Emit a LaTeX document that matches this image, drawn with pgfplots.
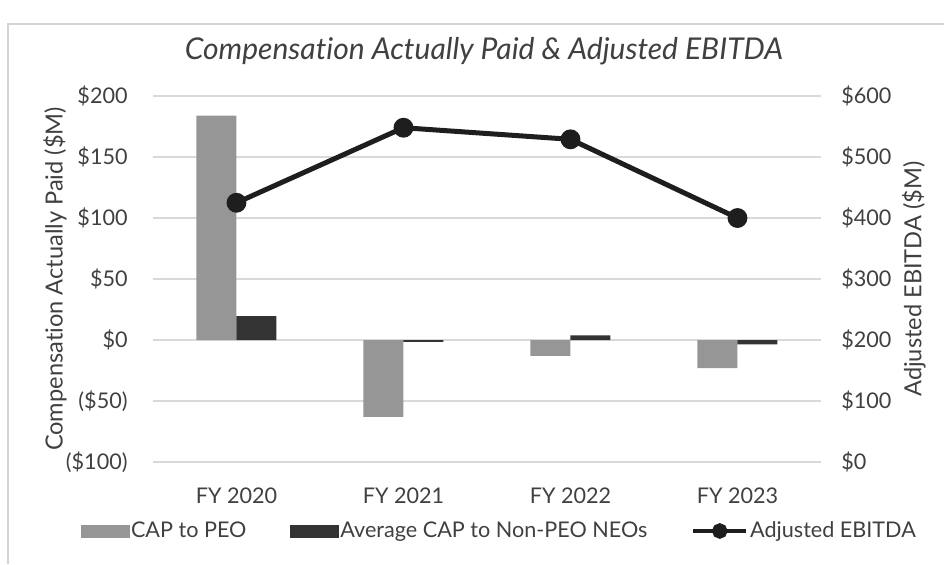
\documentclass[border=0pt]{standalone}
\usepackage{pgfplots}
\pgfplotsset{compat=1.18}
\usepackage{fontspec}
\setmainfont[Ligatures=NoCommon]{Lato}
\definecolor{txt}{HTML}{404040}
\definecolor{peo}{HTML}{969696}
\definecolor{neo}{HTML}{333333}
\definecolor{ebit}{HTML}{1E1E1E}
\definecolor{grd}{HTML}{D9D9D9}
\definecolor{brd}{HTML}{D4D4D4}
\begin{document}
\begin{tikzpicture}[x=1pt,y=1pt]
\useasboundingbox (0,0) rectangle (472,282);
\draw[brd, line width=1pt] (4,0) -- (4,270) -- (472,270);
\node[txt, anchor=base, inner sep=0pt, font=\fontsize{15}{17}\selectfont\itshape] at (242,252) {Compensation Actually Paid \& Adjusted EBITDA};
\begin{axis}[
  at={(76.5pt,51pt)}, anchor=south west,
  scale only axis, width=334pt, height=183pt,
  xmin=-0.5, xmax=3.5, ymin=-100, ymax=200,
  xtick={0,1,2,3}, xticklabels={FY 2020,FY 2021,FY 2022,FY 2023},
  ytick={-100,-50,0,50,100,150,200},
  yticklabels={(\$100),(\$50),\$0,\$50,\$100,\$150,\$200},
  axis line style={draw=none}, major tick length=0pt,
  tick style={draw=none},
  ymajorgrids, grid style={grd, line width=0.8pt},
  tick label style={txt, font=\fontsize{10.8}{12}\selectfont, inner sep=0pt},
  yticklabel style={anchor=east}, yticklabel shift=12.5pt,
  xticklabel style={anchor=north}, xticklabel shift=12.5pt,
  ybar=0pt, bar width=20pt,
  every axis y label/.style={at={(axis description cs:-0.1467,0.5)}, anchor=center, rotate=90},
  ylabel={Compensation Actually Paid (\$M)},
  label style={txt, font=\fontsize{11.8}{13}\selectfont},
]
\addplot[fill=peo, draw=none] coordinates {(0,184) (1,-63) (2,-13) (3,-23)};
\addplot[fill=neo, draw=none] coordinates {(0,19.5) (1,-1.6) (2,3.8) (3,-3.5)};
\end{axis}
\begin{axis}[
  at={(76.5pt,51pt)}, anchor=south west,
  scale only axis, width=334pt, height=183pt,
  xmin=-0.5, xmax=3.5, ymin=0, ymax=600,
  axis x line=none, axis y line*=right,
  ytick={0,100,200,300,400,500,600},
  yticklabels={\$0,\$100,\$200,\$300,\$400,\$500,\$600},
  axis line style={draw=none}, major tick length=0pt,
  tick style={draw=none},
  tick label style={txt, font=\fontsize{10.8}{12}\selectfont, inner sep=0pt},
  yticklabel style={anchor=west}, yticklabel shift=10pt,
  every axis y label/.style={at={(axis description cs:1.139,0.5)}, anchor=center, rotate=90},
  ylabel={Adjusted EBITDA (\$M)},
  label style={txt, font=\fontsize{11.8}{13}\selectfont},
  legend style={at={(axis description cs:0.518,-0.1885)}, anchor=center, draw=none, fill=none,
    font=\fontsize{10.8}{12}\selectfont, text=txt, legend columns=3,
    nodes={inner sep=0.8pt},
    /tikz/every even column/.append style={column sep=21pt}},
  legend cell align=left,
]
\addlegendimage{legend image code/.code={\fill[peo] (0pt,-3pt) rectangle (24pt,3pt);}}
\addlegendimage{legend image code/.code={\fill[neo] (0pt,-3pt) rectangle (24pt,3pt);}}
\addplot[ebit, line width=2.5pt, mark=*, mark size=3.7pt, mark options={fill=ebit, draw=ebit},
  legend image code/.code={\draw[ebit, line width=2.3pt] (0pt,0pt) -- (26.5pt,0pt); \fill[ebit] (13.25pt,0pt) circle (2.6pt);}]
  coordinates {(0,425) (1,548) (2,529) (3,400)};
\legend{CAP to PEO, Average CAP to Non-PEO NEOs, Adjusted EBITDA}
\end{axis}
\end{tikzpicture}
\end{document}
